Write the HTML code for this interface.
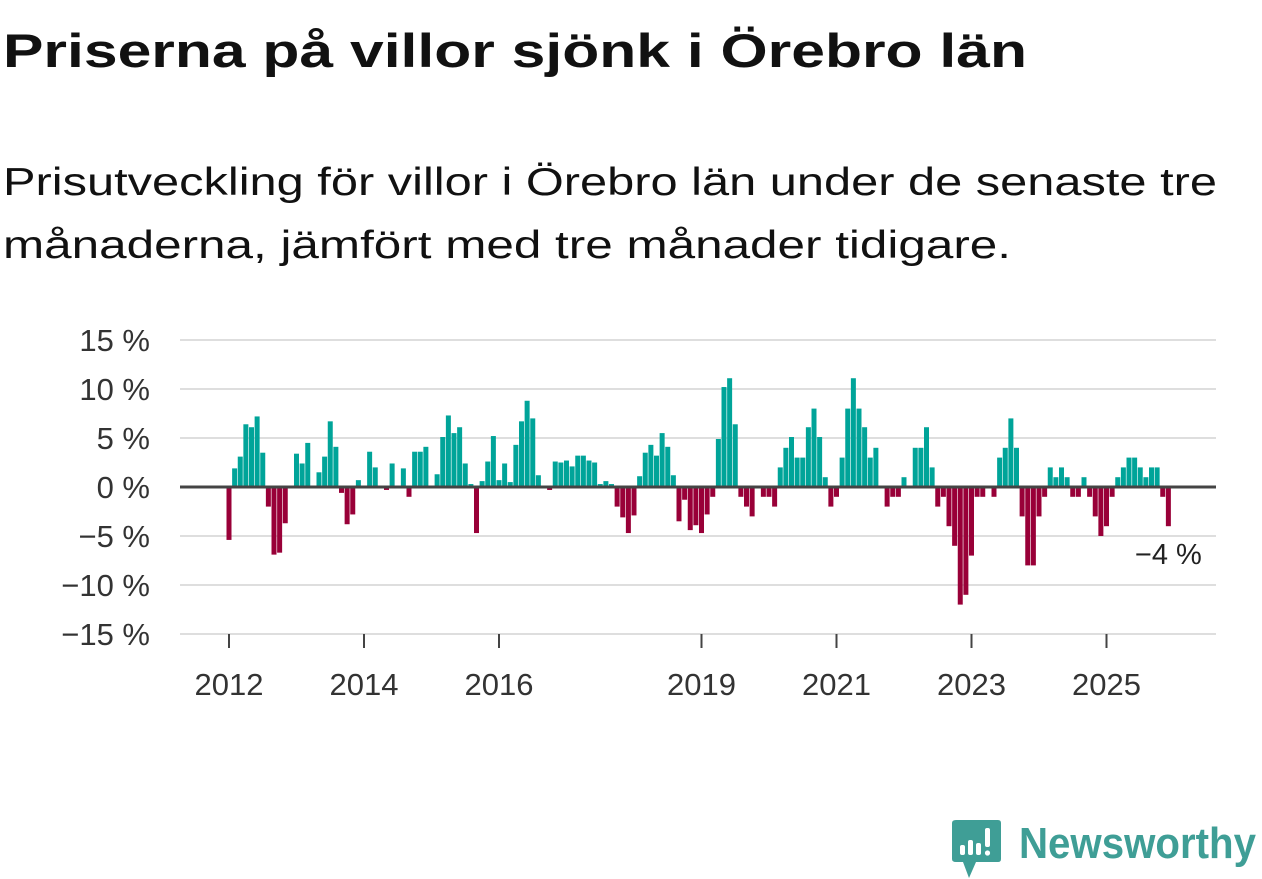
<!DOCTYPE html>
<html><head><meta charset="utf-8"><style>
html,body{margin:0;padding:0;background:#fff;}
svg{display:block;font-family:"Liberation Sans",sans-serif;}
</style></head><body>
<svg id="chart" width="1262" height="879" viewBox="0 0 1262 879" xmlns="http://www.w3.org/2000/svg">
<text x="3" y="67" font-size="47" font-weight="bold" fill="#111" textLength="1024" lengthAdjust="spacingAndGlyphs">Priserna på villor sjönk i Örebro län</text>
<text x="3" y="195" font-size="39" fill="#111" textLength="1214" lengthAdjust="spacingAndGlyphs">Prisutveckling för villor i Örebro län under de senaste tre</text>
<text x="3" y="258" font-size="39" fill="#111" textLength="1008" lengthAdjust="spacingAndGlyphs">månaderna, jämfört med tre månader tidigare.</text>
<g id="grid"></g>
<g id="yaxis"></g>
<g id="xaxis"></g>
<g id="bars"></g>
<line id="zero" x1="180" x2="1216" stroke="#444" stroke-width="3"/>
<text id="lastlabel" font-size="29" fill="#222" text-anchor="middle" stroke="#fff" stroke-width="5" paint-order="stroke"></text>
<g>
<path d="M956 820 H998 Q1001 820 1001 823 V859 Q1001 862 998 862 H976 L969 878 L963 862 H956 Q952 862 952 859 V823 Q952 820 956 820 Z" fill="#3f9e96"/>
<rect x="960" y="845" width="5" height="10" fill="#fff" rx="2"/>
<rect x="968" y="840" width="5" height="15" fill="#fff" rx="2"/>
<rect x="976" y="843" width="5" height="12" fill="#fff" rx="2"/>
<rect x="985" y="828" width="5" height="19" fill="#fff" rx="2"/>
<circle cx="987.5" cy="853" r="2.6" fill="#fff"/>
<text x="1019" y="858" font-size="44" font-weight="bold" fill="#3f9e96" textLength="237" lengthAdjust="spacingAndGlyphs">Newsworthy</text>
</g>
</svg>
<script>
const values = [
-5.4,1.9,3.1,6.4,6.1,7.2,3.5,-2.0,-6.9,-6.7,-3.7,0,
3.4,2.4,4.5,0,1.5,3.1,6.7,4.1,-0.6,-3.8,-2.8,0.7,
0,3.6,2.0,0,-0.3,2.4,0,1.9,-1.0,3.6,3.6,4.1,
0,1.3,5.1,7.3,5.5,6.1,2.4,0.3,-4.7,0.6,2.6,5.2,
0.7,2.4,0.5,4.3,6.7,8.8,7.0,1.2,0,-0.3,2.6,2.5,
2.7,2.1,3.2,3.2,2.7,2.5,0.3,0.6,0.3,-2.0,-3.1,-4.7,
-2.9,1.1,3.5,4.3,3.2,5.5,4.1,1.2,-3.5,-1.3,-4.4,-3.9,
-4.7,-2.8,-1.0,4.9,10.2,11.1,6.4,-1.0,-2.0,-3.0,0,-1.0,
-1.0,-2.0,2.0,4.0,5.1,3.0,3.0,6.1,8.0,5.1,1.0,-2.0,
-1.0,3.0,8.0,11.1,8.0,6.1,3.0,4.0,0,-2.0,-1.0,-1.0,
1.0,0,4.0,4.0,6.1,2.0,-2.0,-1.0,-4.0,-6.0,-12.0,-11.0,
-7.0,-1.0,-1.0,0,-1.0,3.0,4.0,7.0,4.0,-3.0,-8.0,-8.0,
-3.0,-1.0,2.0,1.0,2.0,1.0,-1.0,-1.0,1.0,-1.0,-3.0,-5.0,
-4.0,-1.0,1.0,2.0,3.0,3.0,2.0,1.0,2.0,2.0,-1.0,-4.0
];
const startYear = 2012;
const yTicks = [15,10,5,0,-5,-10,-15];
const yTickLabels = ["15 %","10 %","5 %","0 %","−5 %","−10 %","−15 %"];
const xTickYears = [2012,2014,2016,2019,2021,2023,2025];
const lastLabel = "−4 %";

const NS="http://www.w3.org/2000/svg";
const y0=487, pxPer=9.8, x0=229, monthW=5.625;
const yScale=v=>y0-v*pxPer;
const xScale=i=>x0+i*monthW;
function mk(tag,attrs,parent){const e=document.createElementNS(NS,tag);for(const k in attrs)e.setAttribute(k,attrs[k]);parent.appendChild(e);return e;}
const grid=document.getElementById('grid'),ya=document.getElementById('yaxis'),xa=document.getElementById('xaxis'),bars=document.getElementById('bars');
yTicks.forEach((t,k)=>{
  if(t!==0){const l=mk('line',{x1:180,x2:1216,y1:yScale(t),y2:yScale(t),stroke:'#dedede','stroke-width':2},grid);
  
  }
  const tx=mk('text',{x:150,y:yScale(t)+11,'font-size':31,fill:'#333','text-anchor':'end'},ya);
  
  
  tx.textContent=yTickLabels[k];
});
xTickYears.forEach(yr=>{
  const x=xScale((yr-startYear)*12);
  const l=mk('line',{x1:x,x2:x,y1:634,y2:648,stroke:'#444','stroke-width':2},xa);
  
  
  const tx=mk('text',{x:x,y:695,'font-size':31,fill:'#333','text-anchor':'middle'},xa);
  
  
  tx.textContent=yr;
});
values.forEach((v,i)=>{
  if(v===0)return;
  const x=xScale(i)-2.5;
  const r=mk('rect',{x:x,width:5,y:Math.min(yScale(v),y0),height:Math.abs(v)*pxPer,fill:v>0?'#00a499':'#990038'},bars);
  
  
});
const z=document.getElementById('zero');z.setAttribute('y1',y0);z.setAttribute('y2',y0);
const ll=document.getElementById('lastlabel');
const li=values.length-1;
ll.setAttribute('x',xScale(li));
ll.setAttribute('y',yScale(values[li])+38);
ll.textContent=lastLabel;
</script>
</body></html>
